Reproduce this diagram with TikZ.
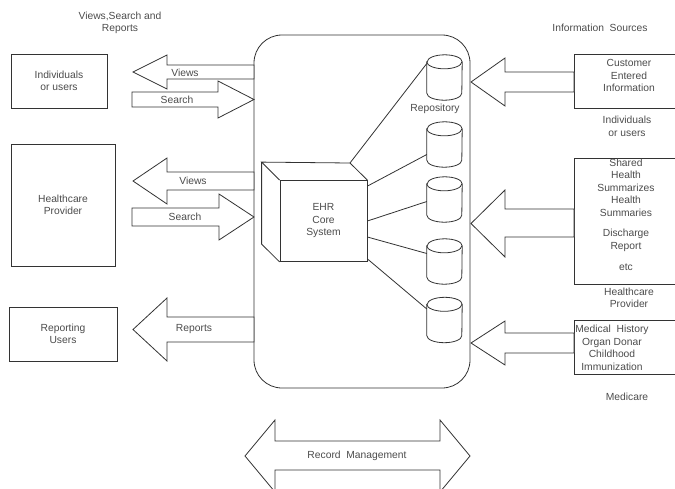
\documentclass[tikz,border=0pt]{standalone}
\usepackage{fontspec}
\setmainfont{Liberation Sans}

\tikzset{
  every node/.style={font=\fontsize{10.3}{12.5}\selectfont,text=black!70},
  box/.style={draw=black!80,fill=white,line width=0.8pt},
  blockarrow/.style={draw=black!80,fill=white,line width=0.8pt,line join=miter},
  repo/.style={minimum width=35pt,minimum height=45pt,inner sep=0pt},
  link/.style={draw=black!80,line width=0.8pt}
}

\begin{document}
\begin{tikzpicture}[x=1pt,y=-1pt]
        \useasboundingbox (0,0) rectangle (675,488);
        %% core system container
        \node[box,rounded corners=28pt,minimum width=216pt,minimum height=353pt] (core) at (362,211.5) {};
        %% left hand side: consumers
        \node[align=center] (viewstitle) at (120,23) {Views,Search and\\Reports};
        \node[box,align=center,minimum width=96pt,minimum height=54pt] (userbox) at (59,81) {Individuals\\or users};
        \node[box,align=center,minimum width=104pt,minimum height=122pt] (hcbox) at (63,205) {Healthcare\\Provider};
        \node[box,align=center,minimum width=108pt,minimum height=54pt] (repbox) at (63,334) {Reporting\\Users};
        %% views / search arrows for individuals
        \draw[blockarrow] (254,65) -- (167,65) -- (167,55) -- (133,72) -- (167,89) -- (167,79) -- (254,79) -- cycle;
        \node (views1) at (185,73) {Views};
        \draw[blockarrow] (132,92) -- (218,92) -- (218,81) -- (254,99.5) -- (218,118) -- (218,107) -- (132,107) -- cycle;
        \node (search1) at (177,99.5) {Search};
        %% views / search arrows for healthcare provider
        \draw[blockarrow] (254,172) -- (167,172) -- (167,158) -- (133,181) -- (167,204) -- (167,190) -- (254,190) -- cycle;
        \node (views2) at (193,181) {Views};
        \draw[blockarrow] (132,208) -- (219,208) -- (219,194) -- (254,217) -- (219,240) -- (219,226) -- (132,226) -- cycle;
        \node (search2) at (185,217) {Search};
        %% reports arrow
        \draw[blockarrow] (254,317) -- (167,317) -- (167,298) -- (133,329.5) -- (167,361) -- (167,342) -- (254,342) -- cycle;
        \node (reports) at (194,329) {Reports};
        %% EHR core system cube
        \node[box,align=center,minimum width=87pt,minimum height=81pt] (ehr) at (323.5,221) {EHR\\Core\\System};
        \coordinate (ehrback) at (350,163);
        \draw[link,line join=miter] (ehr.north west) -- ++(-18,-18) -- (ehrback) -- (ehr.north east);
        \draw[link,line join=miter] (ehr.north west) ++(-18,-18) -- ++(0,82) -- (ehr.south west);
        %% repositories
        \node[repo] (repo1) at (444.5,77.5) {};
        \node[repo] (repo2) at (444.5,144.5) {};
        \node[repo] (repo3) at (444.5,199.5) {};
        \node[repo] (repo4) at (444.5,261.5) {};
        \node[repo] (repo5) at (444.5,320) {};
        \foreach \r in {repo1,repo2,repo3,repo4,repo5}{
          \draw[link,fill=white] ([yshift=-7pt]\r.north west) -- ([yshift=7pt]\r.south west)
            arc[start angle=180,end angle=360,x radius=17.5pt,y radius=7pt]
            -- ([yshift=-7pt]\r.north east)
            arc[start angle=0,end angle=180,x radius=17.5pt,y radius=7pt] -- cycle;
          \draw[link] ([yshift=-7pt]\r.north west)
            arc[start angle=180,end angle=360,x radius=17.5pt,y radius=7pt];
        }
        \node (repolabel) at (435,109) {Repository};
        \draw[link] (ehrback) -- ([yshift=14pt]repo1.west);
        \draw[link] ([yshift=-6pt]ehr.north east) -- ([yshift=-10pt]repo2.west);
        \draw[link] (ehr.east) -- ([yshift=-2pt]repo3.west);
        \draw[link] ([yshift=-16pt]ehr.east) -- ([yshift=8pt]repo4.west);
        \draw[link] ([yshift=3pt]ehr.south east) -- ([yshift=11pt]repo5.west);
        %% right hand side: information sources
        \node (srctitle) at (600,28) {Information\ \ Sources};
        \node[box,minimum width=108pt,minimum height=54pt] (custbox) at (628,81) {};
        \node[align=center] (custtext) at (629,75.5) {Customer\\Entered\\Information};
        \node[align=center] (custlabel) at (627,126.5) {Individuals\\or users};
        \node[box,minimum width=108pt,minimum height=126pt] (sharedbox) at (628,221) {};
        \node[align=center,anchor=north,inner sep=0pt] (sharedtext) at (626,158.5) {Shared\\Health\\Summarizes\\Health\\Summaries\\[8pt]Discharge\\Report\\[9pt]etc};
        \node[align=center] (hclabel) at (629,298) {Healthcare\\Provider};
        \node[box,minimum width=108pt,minimum height=54pt] (medbox) at (628,347) {};
        \node[align=center,inner sep=0pt] (medtext) at (612,348) {Medical\ \ History\\Organ Donar\\Childhood\\Immunization};
        \node (medlabel) at (627,397) {Medicare};
        %% incoming arrows
        \draw[blockarrow] (574,72) -- (505,72) -- (505,58) -- (471,82) -- (505,106) -- (505,92) -- (574,92) -- cycle;
        \draw[blockarrow] (574,209) -- (505,209) -- (505,190) -- (471,223.5) -- (505,257) -- (505,237) -- (574,237) -- cycle;
        \draw[blockarrow] (574,333) -- (505,333) -- (505,321) -- (471,343) -- (505,365) -- (505,353) -- (574,353) -- cycle;
        %% record management
        \draw[blockarrow] (275,441) -- (440,441) -- (440,420) -- (470,456) -- (440,492) -- (440,470) -- (275,470) -- (275,492) -- (245,456) -- (275,420) -- cycle;
        \node (recmgmt) at (357,456) {Record\ \ Management};
    \end{tikzpicture}
\end{document}
